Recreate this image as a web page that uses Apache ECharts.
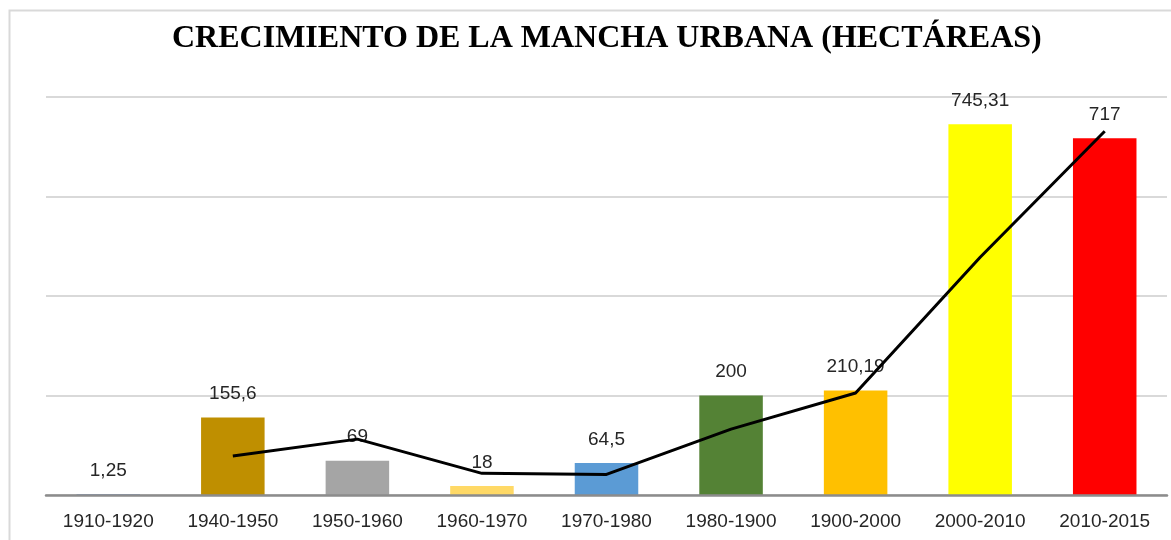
<!DOCTYPE html>
<html><head><meta charset="utf-8">
<script src="https://cdn.jsdelivr.net/npm/echarts@6/dist/echarts.min.js"></script>
<style>html,body{margin:0;padding:0;background:#fff}#c{width:1171px;height:540px}</style>
</head><body><div id="c"></div>
<script>
const categories = ['1910-1920','1940-1950','1950-1960','1960-1970','1970-1980','1980-1900','1900-2000','2000-2010','2010-2015'];
const values = [1.25, 155.6, 69, 18, 64.5, 200, 210.19, 745.31, 717];
const valueLabels = ['1,25','155,6','69','18','64,5','200','210,19','745,31','717'];
const barColors = ['#4472C4','#BF8F00','#A5A5A5','#FFD966','#5B9BD5','#548235','#FFC000','#FFFF00','#FF0000'];
const trendValues = [null, 78.4, 112.3, 43.5, 41.3, 132.3, 205.1, 477.8, 731.2];
const titleText = 'CRECIMIENTO DE LA MANCHA URBANA (HECTÁREAS)';

const chart = echarts.init(document.getElementById('c'), null, {renderer:'canvas'});
chart.setOption({
  animation:false,
  backgroundColor:'#fff',
  title:{text:titleText, left:172, top:23, padding:0,
    textStyle:{fontFamily:'Liberation Serif', fontWeight:'bold', fontSize:32, color:'#000'}},
  graphic:[{type:'rect', shape:{x:9.5,y:10.5,width:1200,height:600}, style:{fill:'none', stroke:'#d9d9d9', lineWidth:2}, silent:true}],
  grid:{left:46, right:4, top:97, bottom:45},
  xAxis:{type:'category', data:categories, z:4,
    axisLine:{lineStyle:{color:'#8c8c8c', width:2.5}},
    axisTick:{show:false},
    axisLabel:{fontFamily:'Liberation Sans', fontSize:19, color:'#262626', margin:17}},
  yAxis:{type:'value', min:0, max:800, interval:200,
    axisLabel:{show:false}, axisLine:{show:false}, axisTick:{show:false},
    splitLine:{lineStyle:{color:'#d9d9d9', width:2}}},
  series:[
    {type:'bar', barCategoryGap:'49%',
     data: values.map((v,i)=>({value:v, itemStyle:{color:barColors[i]}})),
     label:{show:true, position:'top', distance:14,
       formatter:p=>valueLabels[p.dataIndex],
       fontFamily:'Liberation Sans', fontSize:19, color:'#262626'}},
    {type:'line', data:trendValues, showSymbol:false, symbol:'none', z:5,
     lineStyle:{color:'#000', width:3}}
  ]
});
</script></body></html>
